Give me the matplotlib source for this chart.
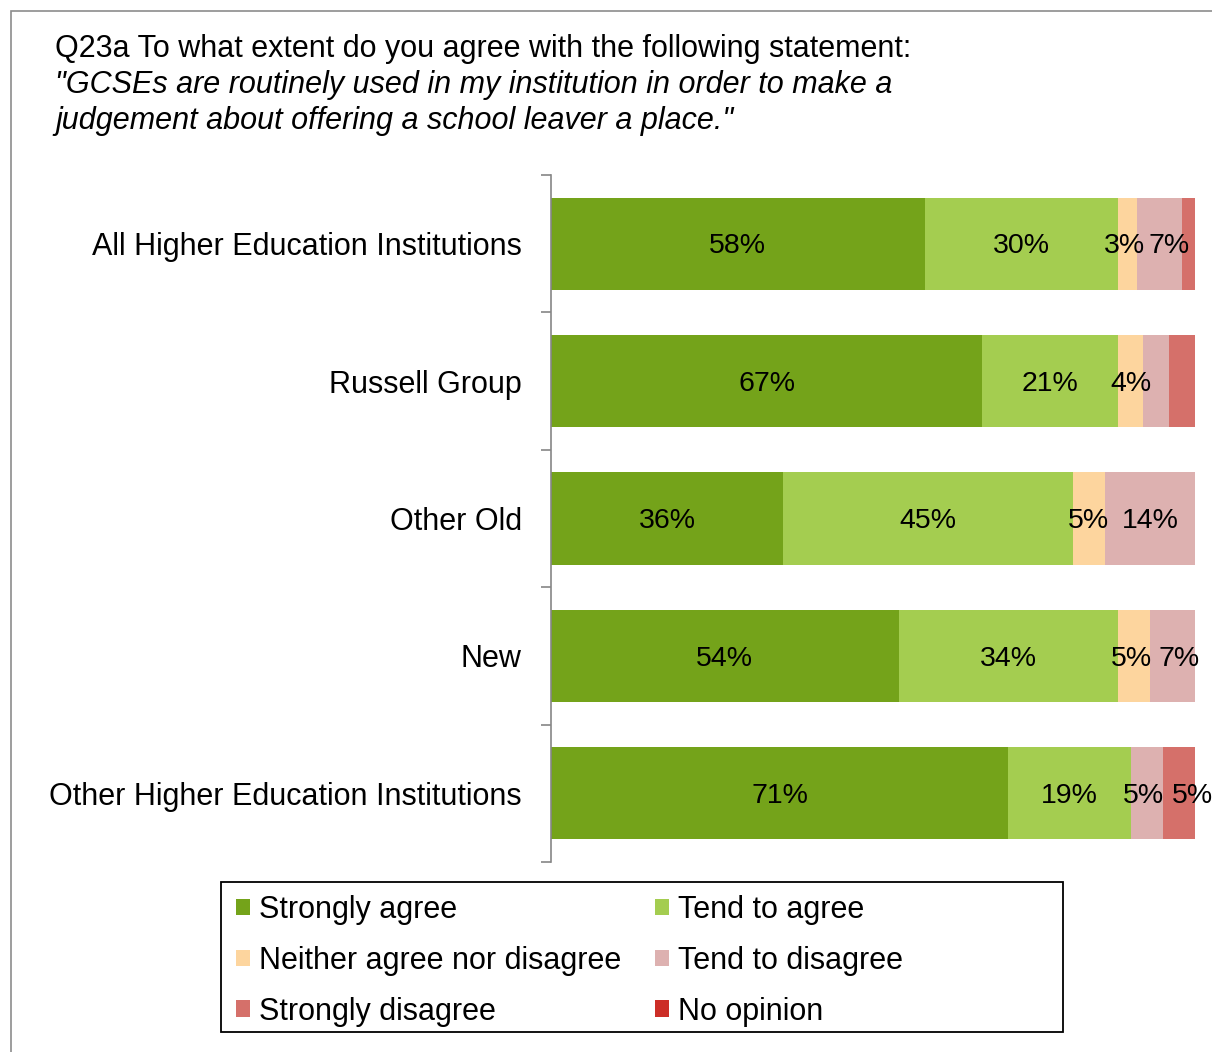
import matplotlib.pyplot as plt
from matplotlib.patches import Rectangle, Patch

plt.rcParams['font.family'] = ['Liberation Sans', 'DejaVu Sans']

# categories, top to bottom
categories = ['All Higher Education Institutions', 'Russell Group', 'Other Old',
              'New', 'Other Higher Education Institutions']

series_names = ['Strongly agree', 'Tend to agree', 'Neither agree nor disagree',
                'Tend to disagree', 'Strongly disagree', 'No opinion']
strongly_agree = [58, 67, 36, 54, 71]
tend_agree = [30, 21, 45, 34, 19]
neither = [3, 4, 5, 5, 0]
tend_disagree = [7, 4, 14, 7, 5]
strongly_disagree = [2, 4, 0, 0, 5]
no_opinion = [0, 0, 0, 0, 0]

# which segments carry a printed label (as in the original)
show_label = [
    [True, True, True, True, False, False],
    [True, True, True, False, False, False],
    [True, True, True, True, False, False],
    [True, True, True, True, False, False],
    [True, True, False, True, True, False],
]

# small sideways nudges (pixels) so that crowded labels sit side by side
nudge = {(0, 2): -3, (0, 3): 9, (3, 2): -2, (3, 3): 7, (4, 3): -3, (4, 4): 14}

colors = ['#74A31A', '#A4CD50', '#FDD59E', '#DDB1B0', '#D5706A', '#CC2E27']
FS = 22

W, H = 1212, 1052
fig = plt.figure(figsize=(W / 100, H / 100), dpi=100)

# outer grey frame
fig.add_artist(Rectangle((11 / W, -0.1), 1.2, (H - 11) / H + 0.1, transform=fig.transFigure,
                         fill=False, edgecolor='#8c8c8c', linewidth=1.2))

ax = fig.add_axes([551 / W, (H - 862) / H, (1195 - 551) / W, (862 - 175) / H])

data = [strongly_agree, tend_agree, neither, tend_disagree, strongly_disagree, no_opinion]
left = [0] * len(categories)
for s, (vals, col) in enumerate(zip(data, colors)):
    ax.barh(range(len(categories)), vals, left=left, height=0.67, color=col,
            edgecolor='none', label=series_names[s])
    for i, v in enumerate(vals):
        if v > 0 and show_label[i][s]:
            dx = nudge.get((i, s), 0) * 0.72
            ax.annotate(f'{v}%', (left[i] + v / 2, i + 0.02), xytext=(dx, 0),
                        textcoords='offset points', ha='center', va='center',
                        fontsize=20.5, color='black', annotation_clip=False)
    left = [l + v for l, v in zip(left, vals)]

ax.set_xlim(0, 100)
ax.set_ylim(len(categories) - 0.5, -0.5)
ax.set_yticks(range(len(categories)))
ax.set_yticklabels(categories, fontsize=FS)
ax.tick_params(axis='y', which='major', length=0, pad=21)
ax.set_yticks([i - 0.5 for i in range(len(categories) + 1)], minor=True)
ax.tick_params(axis='y', which='minor', length=7, color='#868686', width=1.2)
ax.set_xticks([])
for side in ['top', 'right', 'bottom']:
    ax.spines[side].set_visible(False)
ax.spines['left'].set_color('#868686')
ax.spines['left'].set_linewidth(1.2)

# title
fig.text(55 / W, 1 - 49 / H, 'Q23a To what extent do you agree with the following statement:',
         fontsize=FS, va='center', ha='left')
fig.text(55 / W, 1 - 85 / H, '"GCSEs are routinely used in my institution in order to make a',
         fontsize=FS, va='center', ha='left', style='italic')
fig.text(55 / W, 1 - 121 / H, 'judgement about offering a school leaver a place."',
         fontsize=FS, va='center', ha='left', style='italic')

# legend, filled row by row, with a fixed frame drawn separately
fig.add_artist(Rectangle((221 / W, 1 - 1032 / H), (1063 - 221) / W, 150 / H,
                         transform=fig.transFigure, fill=False, edgecolor='black',
                         linewidth=1.3))
handles = [Patch(facecolor=c, edgecolor='none') for c in colors]
order = [0, 2, 4, 1, 3, 5]
leg = fig.legend([handles[k] for k in order], [series_names[k] for k in order],
                 ncol=2, loc='upper left', bbox_to_anchor=(236 / W, 1 - 895 / H),
                 fontsize=FS, frameon=False, handlelength=0.46,
                 handleheight=0.46, handletextpad=0.3, columnspacing=1.1,
                 labelspacing=0.68, borderpad=0.0, borderaxespad=0)

fig.savefig('out.png', dpi=100)
